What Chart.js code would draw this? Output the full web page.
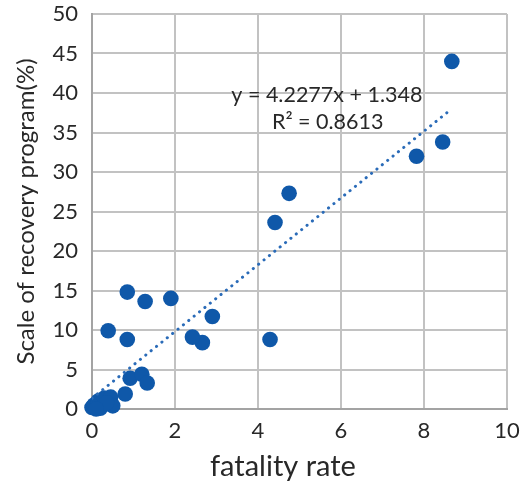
<!DOCTYPE html>
<html>
<head>
<meta charset="utf-8">
<script src="https://cdn.jsdelivr.net/npm/chart.js@4/dist/chart.umd.min.js"></script>
<style>
  html, body { margin: 0; padding: 0; background: #fff; }
  #wrap { width: 524px; height: 487px; }
</style>
</head>
<body>
<div id="wrap"><canvas id="chart" width="524" height="487"></canvas></div>
<script>
// values
const fatalityRate = [8.67, 8.45, 7.82, 4.75, 4.41, 4.29, 2.9, 2.66, 2.42, 1.9,
  0.85, 1.28, 0.39, 0.85, 0.92, 1.2, 1.33, 0.8,
  0, 0.05, 0.15, 0.3, 0.45, 0.2, 0.5, 0.35, 0.1];
const recoveryScale = [44.0, 33.8, 32.0, 27.3, 23.6, 8.8, 11.7, 8.4, 9.1, 14.0,
  14.8, 13.6, 9.9, 8.8, 3.9, 4.4, 3.3, 1.9,
  0.2, 0.5, 1.0, 1.4, 1.5, 0.1, 0.4, 0.8, 0];

// linear trendline as printed on the chart: slope, intercept
const trendCoef = [4.2277, 1.348];
const trendLabels = ['y = 4.2277x + 1.348', 'R\u00B2 = 0.8613'];
const xTitle = 'fatality rate';
const yTitle = 'Scale of recovery program(%)';

const FONT = 'Lato, "Open Sans", sans-serif';
const TEXT = '#282828';
const DOT = '#0f58a9';

const points = fatalityRate.map((x, i) => ({ x, y: recoveryScale[i] }));
const xMin = Math.min(...fatalityRate);
const xMax = Math.max(...fatalityRate);
const trend = [xMin, xMax].map(x => ({ x, y: trendCoef[0] * x + trendCoef[1] }));

// equation text (data coords) and the x title, which sits a bit left of centre
const extraText = {
  id: 'extraText',
  afterDatasetsDraw(chart) {
    const { ctx, chartArea, scales: { x, y } } = chart;
    ctx.save();
    ctx.fillStyle = TEXT;
    ctx.textAlign = 'center';
    ctx.textBaseline = 'middle';
    ctx.font = '21.5px ' + FONT;
    ctx.fillText(trendLabels[0], x.getPixelForValue(5.66), y.getPixelForValue(39.7));
    ctx.fillText(trendLabels[1], x.getPixelForValue(5.68), y.getPixelForValue(36.3));
    ctx.font = '29px ' + FONT;
    ctx.fillText(xTitle, x.getPixelForValue(4.6), chartArea.bottom + 58);
    ctx.restore();
  }
};

new Chart(document.getElementById('chart'), {
  type: 'scatter',
  data: {
    datasets: [
      {
        type: 'line',
        data: trend,
        borderColor: '#2a6bb8',
        borderWidth: 3,
        borderDash: [0.1, 6.8],
        borderCapStyle: 'round',
        pointRadius: 0,
        fill: false,
        order: 0
      },
      {
        data: points,
        backgroundColor: DOT,
        borderWidth: 0,
        pointRadius: 7.8,
        pointHoverRadius: 7.8,
        clip: false,
        order: 1
      }
    ]
  },
  options: {
    responsive: false,
    animation: false,
    layout: { autoPadding: false, padding: { top: 14, right: 17, bottom: 0, left: 0 } },
    plugins: {
      legend: { display: false },
      tooltip: { enabled: false }
    },
    scales: {
      x: {
        type: 'linear',
        min: 0,
        max: 10,
        afterFit(scale) {
          scale.height = 78;
          scale.paddingLeft = 0;
          scale.paddingRight = 0;
        },
        ticks: { stepSize: 2, padding: 9, color: TEXT, font: { family: FONT, size: 22 } },
        grid: { color: '#c2c2c2', lineWidth: 2, drawTicks: false },
        border: { color: '#a3a3a3', width: 2 }
      },
      y: {
        min: 0,
        max: 50,
        afterFit(scale) {
          scale.width = 92;
          scale.paddingTop = 0;
          scale.paddingBottom = 0;
        },
        ticks: { stepSize: 5, padding: 14, color: TEXT, font: { family: FONT, size: 22 } },
        grid: { color: '#c2c2c2', lineWidth: 2, drawTicks: false },
        border: { color: '#a3a3a3', width: 2 },
        title: {
          display: true,
          text: yTitle,
          color: TEXT,
          font: { family: FONT, size: 24 },
          padding: { top: 12, bottom: 0 }
        }
      }
    }
  },
  plugins: [extraText]
});
</script>
</body>
</html>
